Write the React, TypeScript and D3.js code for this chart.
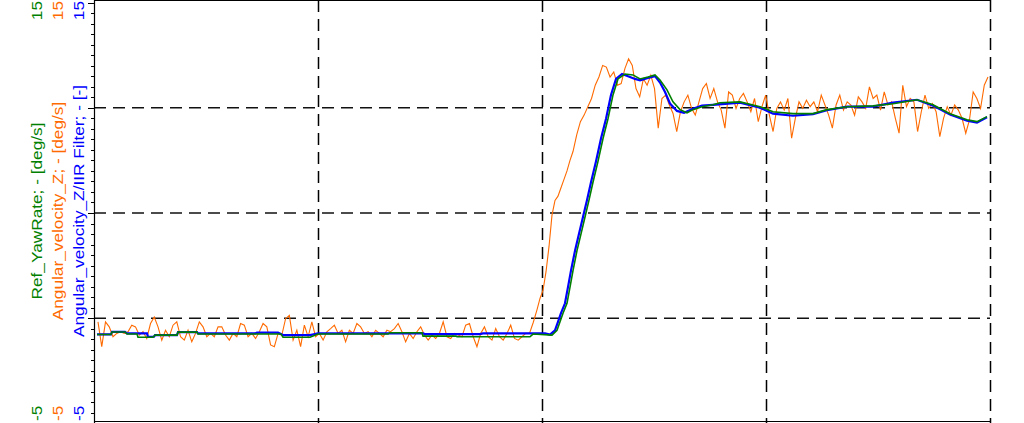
import React from "react";
import * as d3 from "d3";

const W = 1024;
const H = 423;
const X0 = 94;
const X1 = 990;
const Y_TOP = 2.5;
const Y_BOT = 423.5;

const xDomain: [number, number] = [0, 20];
const yDomain: [number, number] = [-5, 15];
const xGridValues = [5, 10, 15, 20];
const yGridValues = [0, 5, 10];
const yTickTop = "15";
const yTickBottom = "-5";

const seriesLabels = [
  "Ref_YawRate; - [deg/s]",
  "Angular_velocity_Z; - [deg/s]",
  "Angular_velocity_Z/IIR Filter; - [-]",
];
const seriesColors = ["#008000", "#ff6a00", "#0000ff"];

// Angular_velocity_Z (raw) – three consecutive sampled stretches
const orangeA = [
  -0.17, -1.35, -0.17, -0.41, -0.88, -0.72, -0.64, -0.72, -0.64, -0.33,
  -0.41, -0.8, -0.64, -0.96, -0.25, 0.06, -0.41, -1.04, -0.57, -0.88,
  -0.33, -0.17, -0.88, -1.04, -0.57, -1.12, -0.72, -0.17, -0.41, -0.88,
  -0.72, -0.88, -0.41, -0.41, -0.8, -1.04, -0.72, -0.88, -0.25, -0.33,
  -0.88, -0.72, -0.96, -0.64, -0.25, -0.41, -1.27, -1.35, -0.72, -0.8,
  -0.02, 0.14, -1.04, -0.57, -1.35, -0.33, -0.88, -0.17, -0.88, -0.72,
  -1.04, -0.64, -0.49, -0.33, -0.72, -0.57, -1.12, -0.57, -0.72, -0.25,
  -0.41, -0.72, -0.64, -0.88, -0.57, -0.72, -0.88, -0.57, -0.64, -0.49,
  -0.25, -0.64, -1.12, -0.72, -0.96, -0.64, -0.41, -0.8, -1.04, -0.8,
  -0.96, -0.72, -0.17, -0.88, -0.96, -0.72, -0.8, -0.88, -0.33, -0.25,
  -0.88, -1.35, -0.72, -0.41, -0.88, -1.04, -0.49, -0.88, -1.04, -0.72,
  -0.33, -0.96, -1.04, -0.88, -0.72, -0.72, -0.2, 0.4,
];
const orangeASpan: [number, number] = [0.089, 9.888];

const orangeB = [0.94, 1.32, 2.2, 3.4, 4.9, 5.6, 5.8, 6.2, 6.6, 7.0, 7.5];
const orangeBSpan: [number, number] = [9.955, 10.625];

const orangeC = [
  7.92, 8.71, 9.34, 9.65, 10.05, 10.44, 11.07, 11.46, 12.01, 11.93,
  11.46, 11.7, 11.07, 11.15, 11.86, 12.33, 12.01, 10.91, 10.52, 11.38,
  11.07, 11.54, 10.91, 9.03, 10.44, 10.6, 10.13, 9.73, 8.87, 9.81,
  10.28, 10.6, 9.97, 9.65, 10.28, 10.91, 11.15, 10.44, 10.91, 10.28,
  9.89, 9.03, 10.75, 10.6, 9.97, 10.44, 10.68, 10.28, 9.81, 10.44,
  9.34, 10.05, 10.6, 9.65, 8.87, 9.97, 10.28, 9.89, 10.44, 8.55,
  9.5, 10.28, 9.97, 10.36, 10.05, 10.28, 9.81, 10.6, 10.13, 9.65,
  9.03, 10.13, 10.6, 9.89, 10.28, 10.13, 9.65, 10.52, 10.28, 9.97,
  10.99, 10.44, 10.6, 9.89, 10.75, 10.13, 10.28, 9.5, 8.79, 11.07,
  10.05, 10.44, 10.28, 8.87, 9.81, 10.6, 9.97, 10.2, 9.81, 8.63,
  9.5, 10.05, 9.65, 10.13, 9.89, 9.5, 8.79, 9.42, 10.75, 10.44,
  9.97, 11.07, 11.46,
];
const orangeCSpan: [number, number] = [10.692, 19.955];

// Ref_YawRate
const greenT = [
  0.067, 0.379, 0.402, 0.692, 0.737, 0.96, 0.982, 1.317, 1.362, 1.853,
  1.875, 2.299, 2.321, 4.174, 4.219, 4.821, 5.0, 6.563, 6.607, 7.321,
  7.344, 8.08, 8.103, 9.732, 9.799, 10.223, 10.335, 10.402, 10.469, 10.558,
  10.625, 10.692, 10.781, 10.871, 10.96, 11.049, 11.138, 11.25, 11.362, 11.473,
  11.585, 11.696, 11.853, 12.031, 12.188, 12.366, 12.522, 12.634, 12.79, 12.924,
  13.08, 13.237, 13.371, 13.571, 13.817, 13.973, 14.42, 14.866, 15.156, 15.603,
  16.049, 16.362, 16.808, 17.388, 17.835, 18.371, 18.728, 19.107, 19.487, 19.71,
  19.933,
];
const greenV = [
  -0.77, -0.77, -0.65, -0.65, -0.75, -0.75, -0.9, -0.9, -0.8, -0.8,
  -0.66, -0.66, -0.75, -0.75, -0.9, -0.9, -0.75, -0.75, -0.69, -0.69,
  -0.85, -0.85, -0.88, -0.88, -0.75, -0.8, -0.57, -0.17, 0.24, 0.71,
  1.48, 2.26, 3.21, 4.01, 4.81, 5.61, 6.46, 7.45, 8.54, 9.48,
  10.61, 11.37, 11.6, 11.56, 11.37, 11.46, 11.56, 11.32, 10.85, 10.28,
  9.91, 9.76, 9.91, 10.05, 10.14, 10.24, 10.28, 10.05, 9.81, 9.72,
  9.72, 9.91, 10.05, 10.09, 10.19, 10.38, 10.14, 9.72, 9.43, 9.34,
  9.58,
];

// Angular_velocity_Z/IIR Filter
const blueT = [
  0.067, 0.379, 0.402, 0.692, 0.737, 1.183, 1.205, 1.339, 1.362, 1.853,
  1.875, 2.299, 2.321, 3.594, 3.638, 4.107, 4.219, 4.821, 5.0, 6.563,
  7.344, 7.388, 8.616, 8.683, 9.732, 10.067, 10.179, 10.29, 10.357, 10.424,
  10.513, 10.58, 10.647, 10.737, 10.826, 10.915, 11.004, 11.094, 11.205, 11.317,
  11.429, 11.54, 11.652, 11.786, 11.92, 12.076, 12.188, 12.366, 12.522, 12.634,
  12.746, 12.857, 13.013, 13.17, 13.371, 13.571, 13.817, 14.42, 14.866, 15.156,
  15.603, 16.049, 16.362, 16.808, 17.388, 17.835, 18.371, 18.728, 19.107, 19.487,
  19.71, 19.933,
];
const blueV = [
  -0.77, -0.77, -0.65, -0.65, -0.72, -0.72, -0.88, -0.88, -0.8, -0.8,
  -0.66, -0.66, -0.72, -0.72, -0.68, -0.68, -0.8, -0.8, -0.72, -0.72,
  -0.72, -0.75, -0.75, -0.72, -0.72, -0.72, -0.78, -0.57, -0.17, 0.24,
  0.71, 1.48, 2.26, 3.21, 4.01, 4.81, 5.61, 6.46, 7.45, 8.54,
  9.48, 10.61, 11.37, 11.6, 11.5, 11.37, 11.3, 11.42, 11.5, 11.2,
  10.75, 10.2, 9.85, 9.76, 9.95, 10.1, 10.14, 10.24, 10.0, 9.72,
  9.62, 9.7, 9.88, 10.05, 10.05, 10.24, 10.38, 10.1, 9.68, 9.38,
  9.3, 9.55,
];

const labelBaselineX = [42, 63, 84];

type Pt = [number, number];

function spread(values: number[], span: [number, number]): Pt[] {
  const n = values.length;
  return values.map((v, i) => [span[0] + ((span[1] - span[0]) * i) / (n - 1), v]);
}

function zip(ts: number[], vs: number[]): Pt[] {
  return ts.map((t, i) => [t, vs[i]]);
}

export default function App() {
  const x = d3.scaleLinear().domain(xDomain).range([X0, X1]);
  const y = d3.scaleLinear().domain(yDomain).range([Y_BOT, Y_TOP]);

  const orange: Pt[] = [
    ...spread(orangeA, orangeASpan),
    ...spread(orangeB, orangeBSpan),
    ...spread(orangeC, orangeCSpan),
  ];
  const green = zip(greenT, greenV);
  const blue = zip(blueT, blueV);

  const linLine = d3
    .line<Pt>()
    .x((d) => x(d[0]))
    .y((d) => y(d[1]));

  const crisp = (v: number) => Math.round(v) + 0.5;
  const minorTicks = d3.range(-5, 15.001, 0.5);
  const font = "'Liberation Sans', Arial, sans-serif";
  const midY = 211;

  return (
    <svg
      width={W}
      height={H}
      style={{ position: "absolute", left: 0, top: 0, background: "#fff" }}
    >
      <defs>
        <clipPath id="plotclip">
          <rect x={X0} y={0} width={X1 - X0} height={H} />
        </clipPath>
      </defs>
      <rect x={0} y={0} width={W} height={H} fill="#fff" />

      {/* grid */}
      {yGridValues.map((v) => (
        <line
          key={"hy" + v}
          x1={X0}
          x2={X1}
          y1={y(v)}
          y2={y(v)}
          stroke="#111"
          strokeWidth={1.4}
          strokeDasharray="12 7"
        />
      ))}
      {xGridValues.map((v) => (
        <line
          key={"vx" + v}
          x1={crisp(x(v))}
          x2={crisp(x(v))}
          y1={0}
          y2={H}
          stroke="#000"
          strokeWidth={1.5}
          strokeDasharray="12 7"
        />
      ))}

      {/* frame */}
      <line x1={crisp(X0)} x2={crisp(X0)} y1={0} y2={H} stroke="#000" strokeWidth={1.2} />
      <line x1={X0} x2={X1} y1={0.5} y2={0.5} stroke="#000" strokeWidth={1} />
      <line x1={X0} x2={X1} y1={421.5} y2={421.5} stroke="#000" strokeWidth={1} />

      {/* left ticks */}
      {minorTicks.map((v) => {
        const major = Math.abs(v % 5) < 1e-6;
        return (
          <line
            key={"t" + v}
            x1={X0 - (major ? 6 : 3)}
            x2={X0}
            y1={crisp(y(v))}
            y2={crisp(y(v))}
            stroke="#000"
            strokeWidth={1}
          />
        );
      })}

      {/* series */}
      <g clipPath="url(#plotclip)">
        <path d={linLine(orange) || ""} fill="none" stroke={seriesColors[1]} strokeWidth={1.1} />
        <path d={linLine(blue) || ""} fill="none" stroke={seriesColors[2]} strokeWidth={2.2} />
        <path d={linLine(green) || ""} fill="none" stroke={seriesColors[0]} strokeWidth={1.6} />
      </g>

      {/* axis titles and tick labels */}
      {seriesLabels.map((lab, i) => {
        const bx = labelBaselineX[i];
        return (
          <g key={"lab" + i} fill={seriesColors[i]} fontFamily={font} fontSize={15}>
            <text transform={`translate(${bx},${midY}) rotate(-90) scale(1.15,1)`} textAnchor="middle">
              {lab}
            </text>
            <text transform={`translate(${bx},1) rotate(-90) scale(1.15,1)`} textAnchor="end">
              {yTickTop}
            </text>
            <text transform={`translate(${bx},421) rotate(-90) scale(1.15,1)`} textAnchor="start">
              {yTickBottom}
            </text>
          </g>
        );
      })}
    </svg>
  );
}
